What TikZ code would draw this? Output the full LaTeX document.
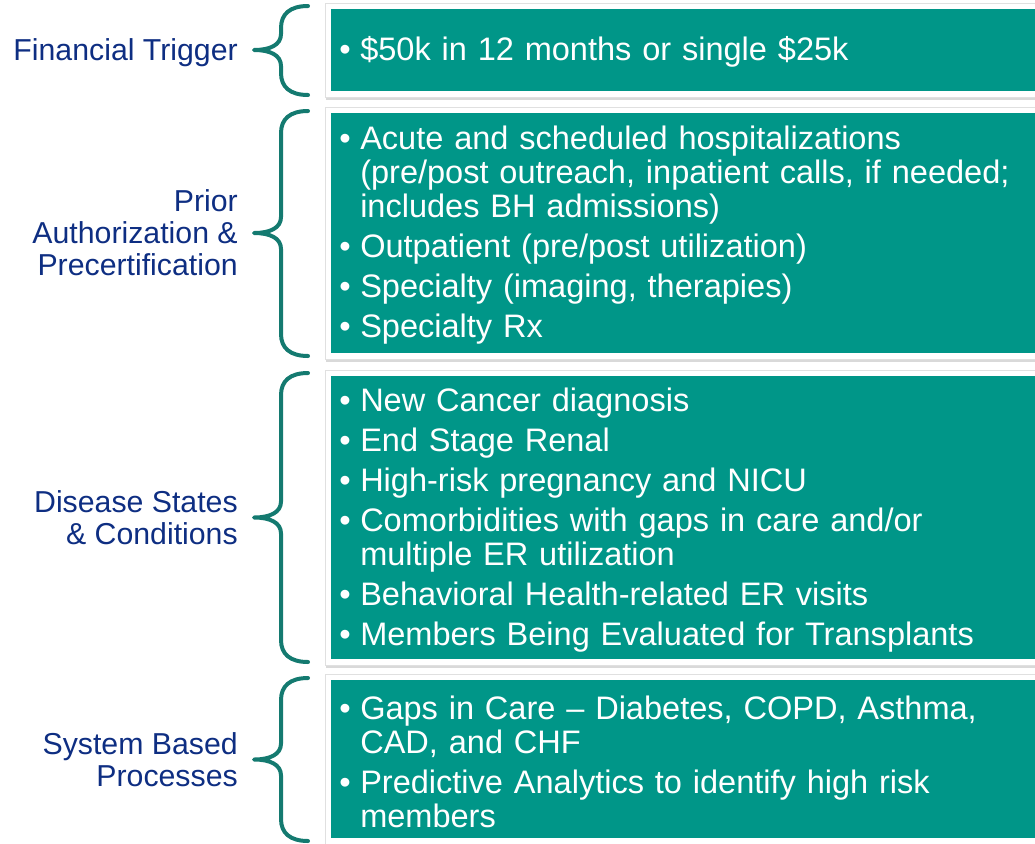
\documentclass[tikz,border=0pt]{standalone}
\usepackage{fontspec}
\setmainfont{Liberation Sans}
\usetikzlibrary{positioning,fit,backgrounds,shadows}
\definecolor{navy}{RGB}{14,46,130}
\definecolor{tealbox}{RGB}{0,150,136}
\definecolor{tealline}{RGB}{20,122,112}
\newcommand{\itm}[1]{\hangindent=15.75pt\hangafter=1\noindent\makebox[15.75pt][l]{\textbullet}#1\par}
% curly brace: top, middle, bottom, name of the tip
\newcommand{\gbrace}[4]{%
  \draw[brc] (308,#1) .. controls (290,#1) and (281,#1+8) .. (281,#1+22)
    -- (281,#2-16) .. controls (281,#2-5) and (270,#2) .. (254,#2) coordinate (#4)
    .. controls (270,#2) and (281,#2+5) .. (281,#2+16)
    -- (281,#3-22) .. controls (281,#3-8) and (290,#3) .. (308,#3);}
\tikzset{
  lbl/.style={text=navy, align=right, inner sep=0pt, font=\fontsize{22.7}{24}\selectfont},
  tbox/.style={fill=tealbox, text=white, anchor=north west, text width=520.5pt, align=left,
    inner xsep=6pt, inner ysep=0pt,
    font={\fontsize{24.4}{25.5}\selectfont\setlength{\parskip}{4.5pt}},
    execute at begin node={\vskip-9pt}},
  panel/.style={fill=white, draw=black!12, line width=.5pt, inner sep=4.5pt,
    drop shadow={shadow xshift=1pt, shadow yshift=-2pt, opacity=.3}},
  brc/.style={draw=tealline, line width=3pt, line cap=round, line join=round}
}
\begin{document}
\begin{tikzpicture}[x=0.75pt,y=-0.75pt]
\useasboundingbox (0,0) rectangle (1035,843);

\node[tbox, minimum height=82*0.75pt] (b1) at (331,9) {\itm{\$50k in 12 months or single \$25k}};
\node[tbox, minimum height=240*0.75pt] (b2) at (331,113) {%
  \itm{Acute and scheduled hospitalizations\newline(pre/post outreach, inpatient calls, if needed;\newline includes BH admissions)}
  \itm{Outpatient (pre/post utilization)}
  \itm{Specialty (imaging, therapies)}
  \itm{Specialty Rx}};
\node[tbox, minimum height=283*0.75pt] (b3) at (331,376) {%
  \itm{New Cancer diagnosis}
  \itm{End Stage Renal}
  \itm{High-risk pregnancy and NICU}
  \itm{Comorbidities with gaps in care and/or\newline multiple ER utilization}
  \itm{Behavioral Health-related ER visits}
  \itm{Members Being Evaluated for Transplants}};
\node[tbox, minimum height=158*0.75pt] (b4) at (331,680) {%
  \itm{Gaps in Care -- Diabetes, COPD, Asthma,\newline CAD, and CHF}
  \itm{Predictive Analytics to identify high risk\newline members}};

\begin{scope}[on background layer]
  \node[panel, fit=(b1)] (p1) {};
  \node[panel, fit=(b2)] (p2) {};
  \node[panel, fit=(b3)] (p3) {};
  \node[panel, fit=(b4)] (p4) {};
\end{scope}

\gbrace{6}{50}{95}{t1}
\gbrace{111}{233}{356}{t2}
\gbrace{373}{517.5}{662}{t3}
\gbrace{678}{759.5}{841}{t4}

\node[lbl, left=12pt of t1, yshift=-2pt] (l1) {Financial Trigger};
\node[lbl, left=12pt of t2] (l2) {Prior\\Authorization \&\\Precertification};
\node[lbl, left=12pt of t3] (l3) {Disease States\\\& Conditions};
\node[lbl, left=12pt of t4] (l4) {System Based\\Processes};
\end{tikzpicture}
\end{document}
